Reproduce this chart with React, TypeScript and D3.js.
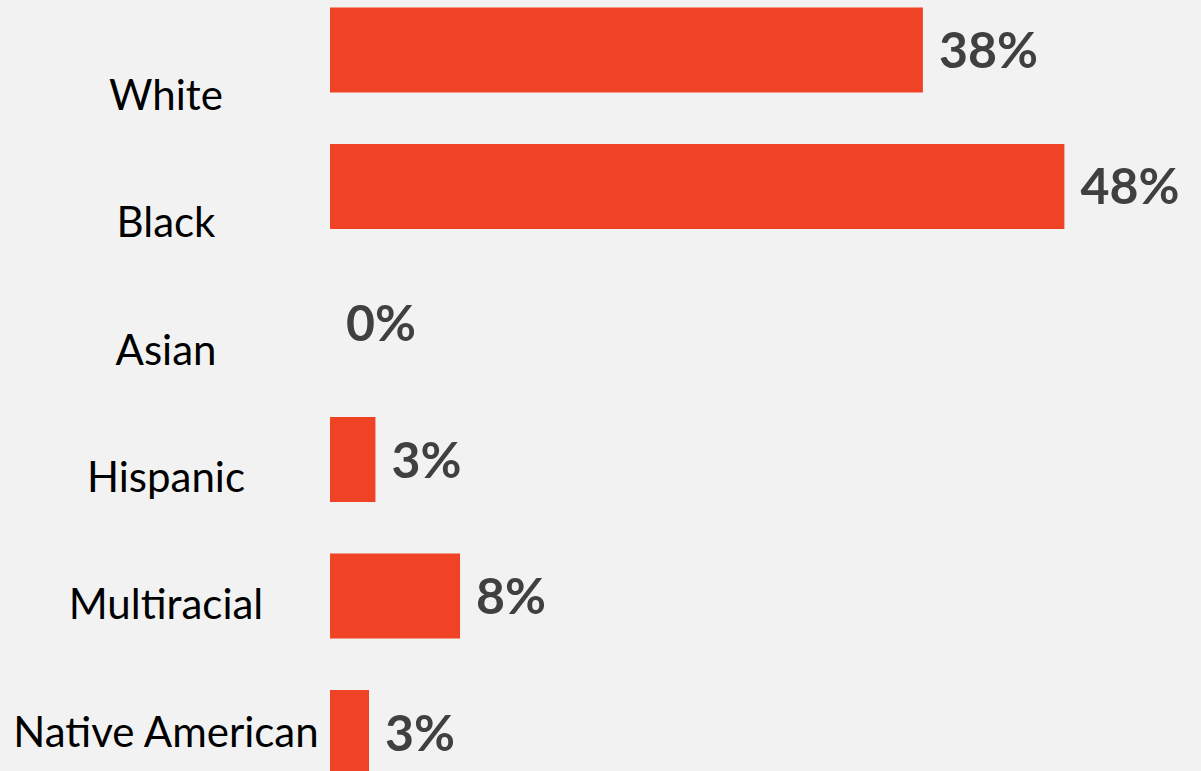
import React from "react";
import * as d3 from "d3";

const categories = ["White", "Black", "Asian", "Hispanic", "Multiracial", "Native American"];
const values = [38.75, 48, 0, 2.97, 8.5, 2.55];
const valueLabels = ["38%", "48%", "0%", "3%", "8%", "3%"];

const W = 1201;
const H = 771;

export default function App() {
  const x = d3.scaleLinear().domain([0, 50]).range([330, 1095]);
  const y = d3
    .scaleBand<string>()
    .domain(categories)
    .range([7.5, 775])
    .paddingInner(0.3773)
    .paddingOuter(0);
  const labelY = d3.scalePoint<string>().domain(categories).range([110, 746.5]);

  return (
    <div style={{ position: "absolute", left: 0, top: 0, width: W, height: H, overflow: "hidden", background: "#f2f2f2" }}>
      <svg width={W} height={H} style={{ display: "block" }}>
        <rect x={0} y={0} width={W} height={H} fill="#f2f2f2" />
        {categories.map((c, i) => (
          <text
            key={"c" + c}
            x={166}
            y={labelY(c)}
            textAnchor="middle"
            fontFamily="Lato, 'Open Sans', sans-serif"
            fontSize={42}
            fill="#000"
          >
            {c}
          </text>
        ))}
        {categories.map((c, i) =>
          values[i] > 0 ? (
            <rect
              key={"b" + c}
              x={x(0)}
              y={y(c)}
              width={x(values[i]) - x(0)}
              height={y.bandwidth()}
              fill="#f04325"
            />
          ) : null
        )}
        {categories.map((c, i) => (
          <text
            key={"v" + c}
            x={x(values[i]) + 16}
            y={(y(c) as number) + y.bandwidth() / 2}
            dy="0.36em"
            fontFamily="Lato, 'Open Sans', sans-serif"
            fontWeight={700}
            fontSize={50}
            fill="#404040"
          >
            {valueLabels[i]}
          </text>
        ))}
      </svg>
    </div>
  );
}
